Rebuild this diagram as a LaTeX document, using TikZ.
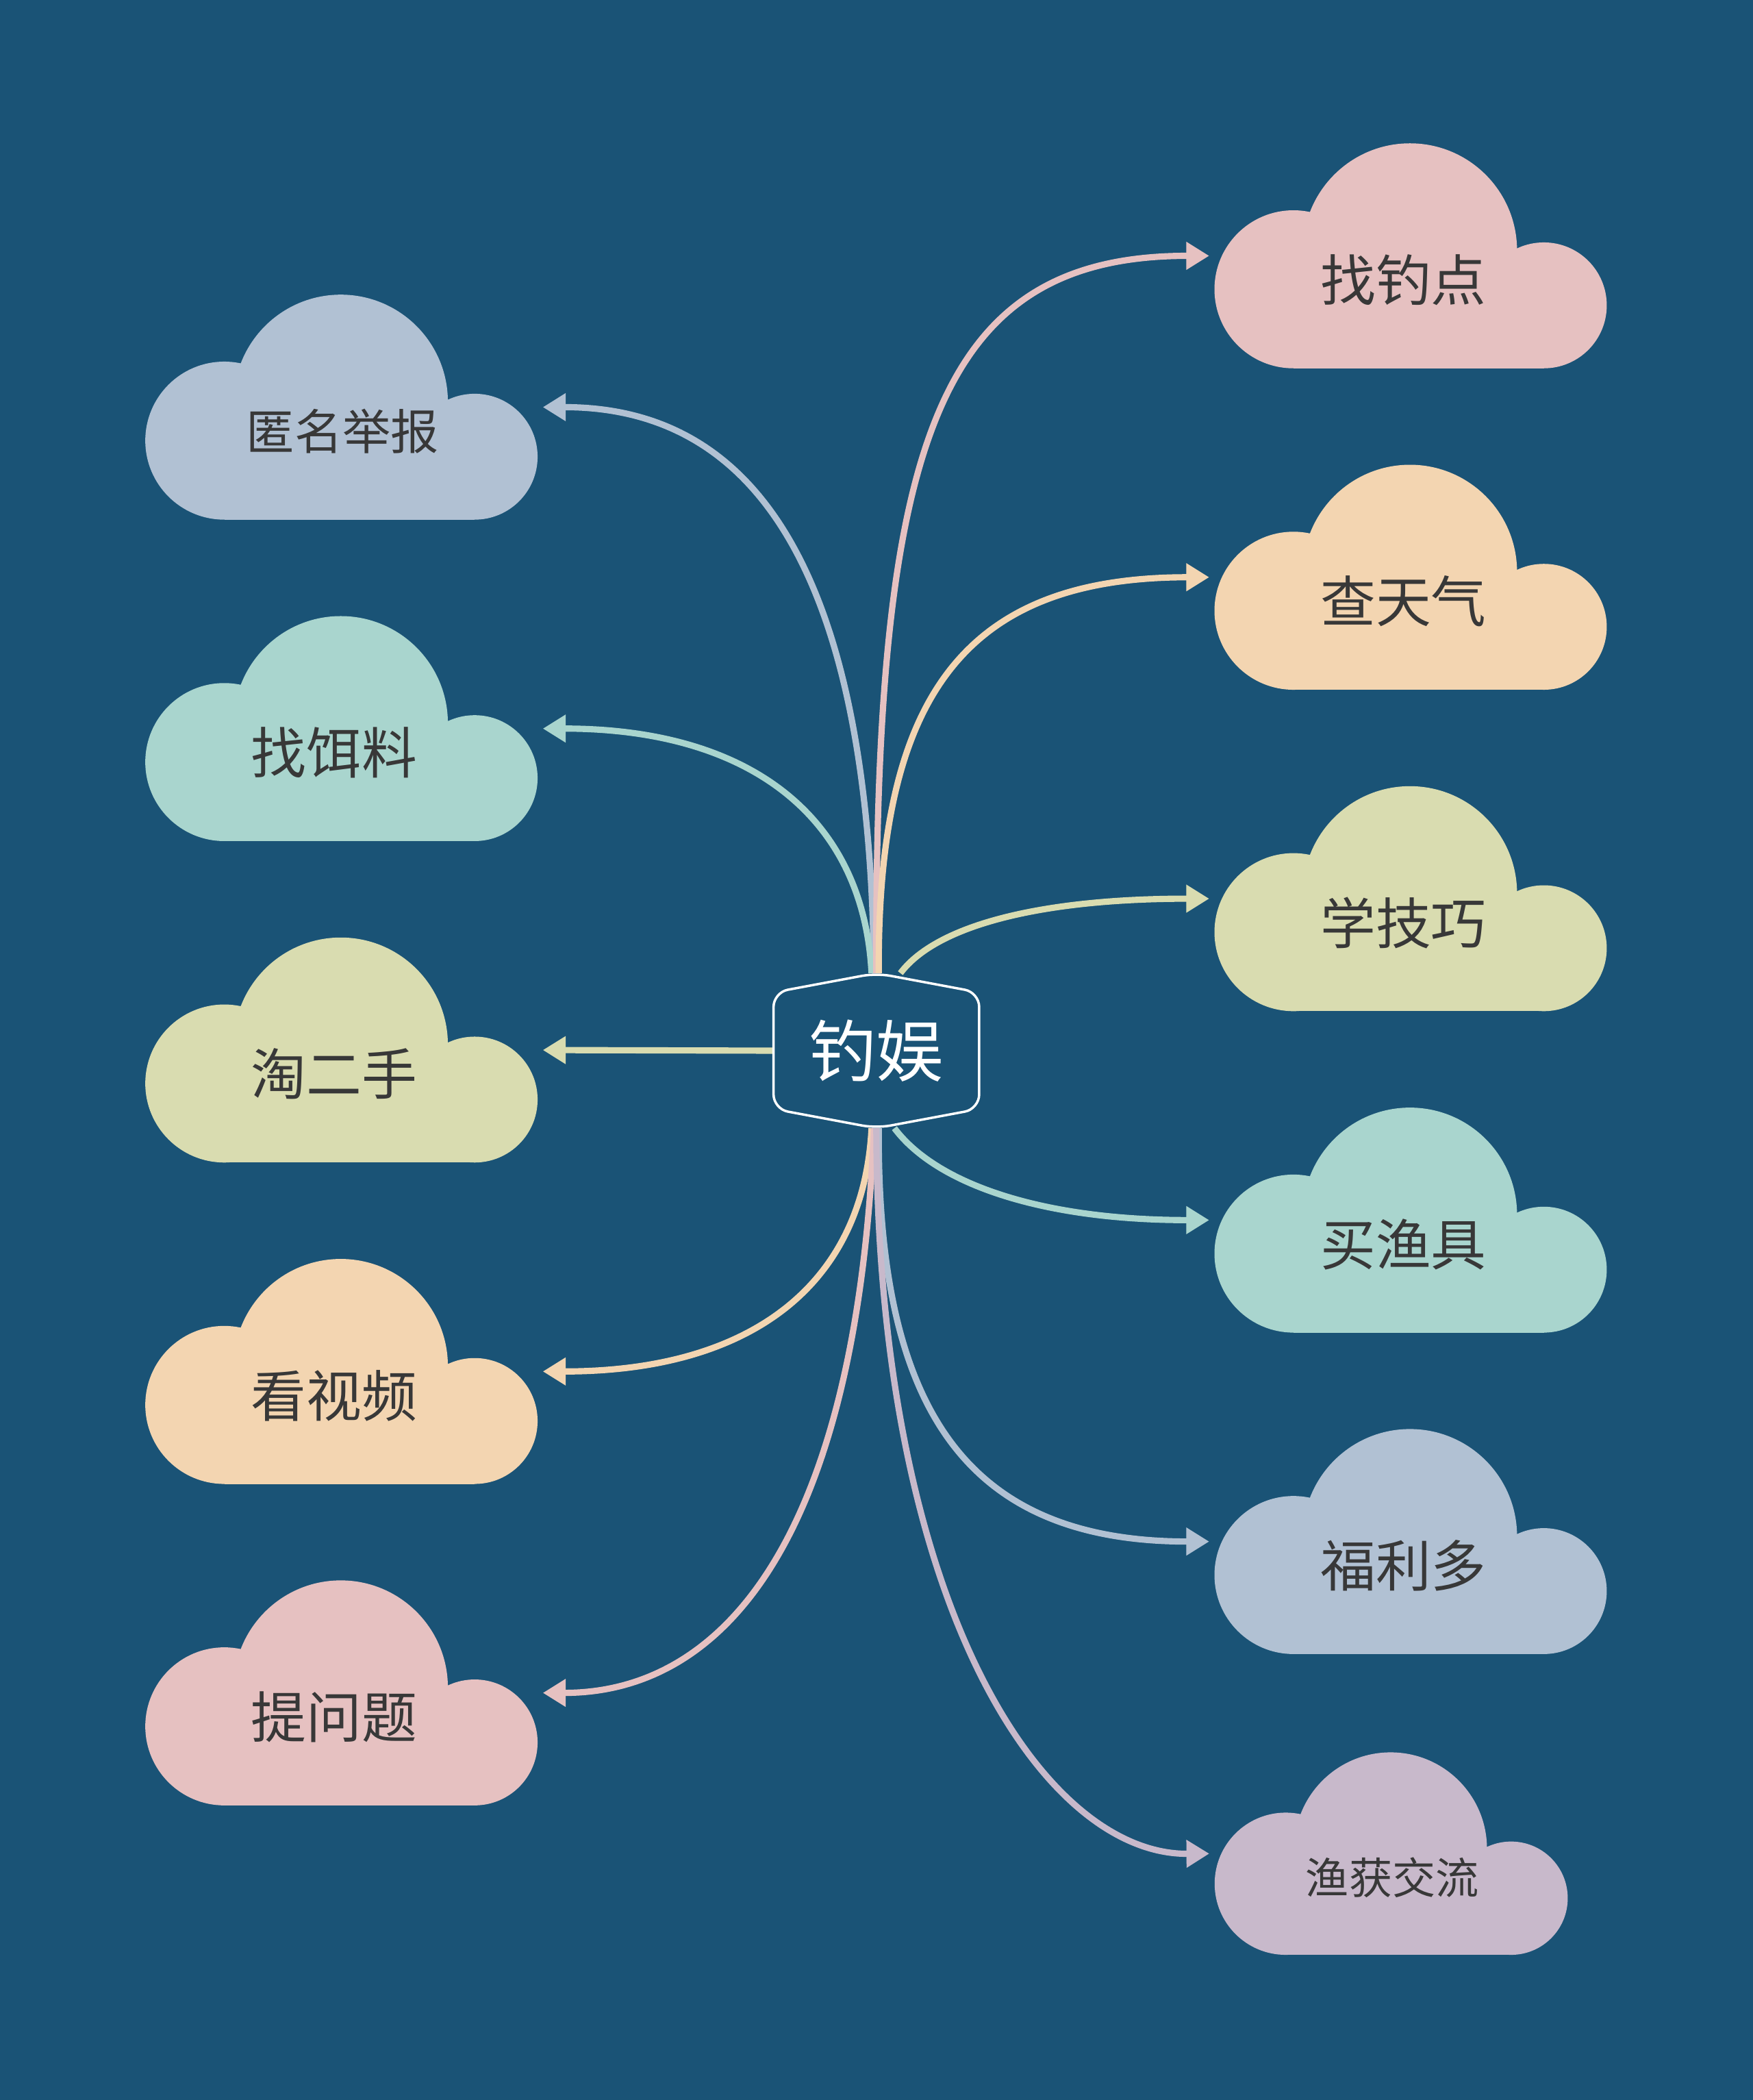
\documentclass[tikz,border=0pt]{standalone}
\usepackage{fontspec}
\newfontfamily\cjk{Noto Sans CJK SC}
\usetikzlibrary{arrows.meta}

\pgfdeclarelayer{bg}
\pgfdeclarelayer{links}
\pgfdeclarelayer{hex}
\pgfsetlayers{bg,links,hex,main}

\definecolor{bgblue}{HTML}{1A5376}
\definecolor{pinkc}{HTML}{E6C1C1}
\definecolor{peachc}{HTML}{F3D5B1}
\definecolor{olivec}{HTML}{D9DCB0}
\definecolor{tealc}{HTML}{A9D5CE}
\definecolor{greyc}{HTML}{B1C1D3}
\definecolor{lavc}{HTML}{C8B9CB}
\definecolor{inkgray}{HTML}{383838}

\tikzset{
  puff/.pic={
    \fill[#1] (-87.5,25) circle (59) (-0.5,-4) circle (80) (99.5,37) circle (47);
    \fill[#1] (-87.5,84) rectangle (99.5,0);
  },
  cloudbox/.style={minimum width=5.73cm, minimum height=3.29cm, inner sep=0pt},
  smallbox/.style={minimum width=5.16cm, minimum height=2.97cm, inner sep=0pt},
  cloudtext/.style={font=\cjk\fontsize{23pt}{23pt}\selectfont, text=inkgray, xshift=-3pt, yshift=-10pt},
  link/.style={line width=2.6pt, shorten >=2pt, -{Triangle[length=9.5pt,width=11pt]}},
}

\begin{document}
\begin{tikzpicture}[x=0.019557cm, y=-0.019557cm]
    \begin{pgfonlayer}{bg}
    \fill[bgblue] (0,0) rectangle (1309,1568);
    \end{pgfonlayer}

    % clouds
    \pic at (255,304) {puff=greyc};
    \pic at (255,544) {puff=tealc};
    \pic at (255,784) {puff=olivec};
    \pic at (255,1024) {puff=peachc};
    \pic at (255,1264) {puff=pinkc};
    \pic at (1053.5,191) {puff=pinkc};
    \pic at (1053.5,431) {puff=peachc};
    \pic at (1053.5,671) {puff=olivec};
    \pic at (1053.5,911) {puff=tealc};
    \pic at (1053.5,1151) {puff=greyc};
    \pic[scale=0.9] at (1039,1384) {puff=lavc};

    % centre
    \node[minimum width=2.99cm, minimum height=2.25cm, inner sep=0pt, text=white,
          font=\cjk\fontsize{28pt}{28pt}\selectfont] (fishing) at (654.5,784.5) {钓娱};

    % left side
    \node[cloudbox, label={[cloudtext, xshift=3.5pt, font=\cjk\fontsize{20pt}{20pt}\selectfont]center:匿名举报}] (report) at (255,304) {};
    \node[cloudbox, label={[cloudtext]center:找饵料}] (bait) at (255,544) {};
    \node[cloudbox, label={[cloudtext]center:淘二手}] (used) at (255,784) {};
    \node[cloudbox, label={[cloudtext]center:看视频}] (video) at (255,1024) {};
    \node[cloudbox, label={[cloudtext]center:提问题}] (asking) at (255,1264) {};

    % right side
    \node[cloudbox, label={[cloudtext]center:找钓点}] (spot) at (1053.5,191) {};
    \node[cloudbox, label={[cloudtext]center:查天气}] (weather) at (1053.5,431) {};
    \node[cloudbox, label={[cloudtext]center:学技巧}] (skill) at (1053.5,671) {};
    \node[cloudbox, label={[cloudtext]center:买渔具}] (gear) at (1053.5,911) {};
    \node[cloudbox, label={[cloudtext]center:福利多}] (bonus) at (1053.5,1151) {};
    \node[smallbox, label={[cloudtext, xshift=3.5pt, font=\cjk\fontsize{18pt}{18pt}\selectfont]center:渔获交流}] (catch) at (1039,1384) {};

    % links
    \begin{pgfonlayer}{links}
    \draw[link, greyc] ([xshift=-1pt]fishing.north) .. controls (650,420) and (560,304) .. (report.east);
    \draw[link, tealc] ([xshift=-2pt]fishing.north) .. controls (645,610) and (560,544) .. (bait.east);
    \draw[link, olivec] (fishing.west) -- (used.east);
    \draw[link, peachc] ([xshift=-2pt]fishing.south) .. controls (645,960) and (560,1024) .. (video.east);
    \draw[link, pinkc] ([xshift=-1pt]fishing.south) .. controls (640,1150) and (540,1264) .. (asking.east);

    \draw[link, pinkc] (fishing.north) .. controls (653,330) and (700,191) .. (spot.west);
    \draw[link, peachc] ([xshift=1pt]fishing.north) .. controls (655,520) and (720,431) .. (weather.west);
    \draw[link, olivec] ([xshift=10pt]fishing.north) .. controls (700,690) and (780,671) .. (skill.west);
    \draw[link, tealc] ([xshift=7.5pt]fishing.south) .. controls (700,885) and (780,911) .. (gear.west);
    \draw[link, greyc] ([xshift=1pt]fishing.south) .. controls (655,1050) and (720,1151) .. (bonus.west);
    \draw[link, lavc] (fishing.south) .. controls (655,1200) and (780,1385) .. (catch.west);
    \end{pgfonlayer}

    % hexagon round the centre
    \begin{pgfonlayer}{hex}
    \draw[white, fill=bgblue, line width=1pt, rounded corners=6pt]
      (fishing.north) -- ([yshift=-8pt]fishing.north east) -- ([yshift=8pt]fishing.south east)
      -- (fishing.south) -- ([yshift=8pt]fishing.south west) -- ([yshift=-8pt]fishing.north west) -- cycle;
    \end{pgfonlayer}
\end{tikzpicture}
\end{document}
